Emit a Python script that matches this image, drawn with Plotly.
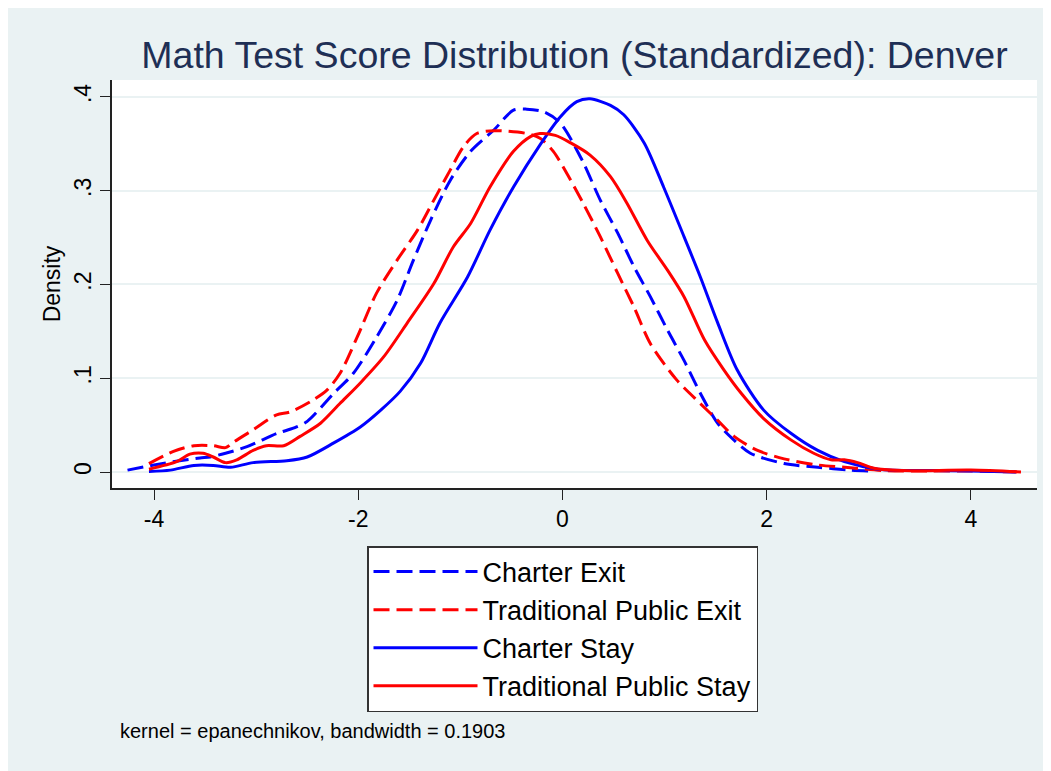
import plotly.graph_objects as go

# ---- data ----
ce_x = [-4.26, -4.0, -3.75, -3.55, -3.45, -3.3, -3.09, -2.8, -2.63, -2.5, -2.24, -2.05, -1.82, -1.62,
        -1.46, -1.29, -1.10, -0.90, -0.67, -0.48, -0.35, -0.18, -0.02, 0.19, 0.37, 0.54, 0.70, 0.86,
        1.03, 1.19, 1.35, 1.52, 1.68, 1.84, 2.17, 2.50, 2.82, 3.0]
ce_y = [0.002, 0.0075, 0.012, 0.015, 0.016, 0.020, 0.027, 0.041, 0.047, 0.054, 0.084, 0.105, 0.144,
        0.183, 0.226, 0.269, 0.311, 0.342, 0.365, 0.386, 0.387, 0.384, 0.372, 0.333, 0.290, 0.255,
        0.219, 0.187, 0.151, 0.119, 0.084, 0.052, 0.034, 0.020, 0.009, 0.005, 0.002, 0.001]

te_x = [-4.05, -3.81, -3.61, -3.42, -3.30, -3.22, -3.03, -2.80, -2.67, -2.47, -2.31, -2.18, -2.01,
        -1.82, -1.62, -1.42, -1.26, -1.10, -0.97, -0.84, -0.67, -0.35, -0.22, -0.09, 0.05, 0.21, 0.37,
        0.54, 0.70, 0.86, 1.12, 1.35, 1.52, 1.68, 1.91, 2.17, 2.50, 2.82, 3.15, 3.6, 4.0, 4.45]
te_y = [0.009, 0.022, 0.028, 0.028, 0.026, 0.032, 0.045, 0.061, 0.064, 0.075, 0.087, 0.105, 0.144,
        0.191, 0.226, 0.258, 0.290, 0.322, 0.347, 0.361, 0.364, 0.361, 0.356, 0.342, 0.317, 0.285,
        0.251, 0.212, 0.176, 0.137, 0.098, 0.073, 0.055, 0.038, 0.023, 0.014, 0.0075, 0.0046, 0.0015,
        0.001, 0.001, 0.0]

cs_x = [-4.05, -3.84, -3.61, -3.42, -3.25, -3.03, -2.70, -2.50, -2.24, -1.98, -1.78, -1.59, -1.39,
        -1.20, -0.93, -0.71, -0.48, -0.22, -0.02, 0.14, 0.27, 0.47, 0.60, 0.80, 0.99, 1.19, 1.35, 1.52,
        1.71, 1.97, 2.24, 2.50, 2.76, 3.09, 3.61, 4.0, 4.44]
cs_y = [0.0005, 0.002, 0.007, 0.007, 0.005, 0.010, 0.012, 0.016, 0.031, 0.048, 0.066, 0.086, 0.116,
        0.159, 0.208, 0.258, 0.304, 0.349, 0.379, 0.395, 0.398, 0.391, 0.381, 0.351, 0.304, 0.251,
        0.208, 0.159, 0.109, 0.066, 0.041, 0.023, 0.011, 0.003, 0.0015, 0.001, 0.0]

ts_x = [-4.05, -3.78, -3.65, -3.52, -3.42, -3.30, -3.19, -3.03, -2.90, -2.73, -2.57, -2.37, -2.18,
        -1.98, -1.75, -1.52, -1.26, -1.07, -0.90, -0.71, -0.48, -0.31, -0.22, -0.07, 0.08, 0.27, 0.47,
        0.63, 0.83, 1.03, 1.19, 1.39, 1.58, 1.75, 1.97, 2.24, 2.46, 2.63, 2.76, 2.89, 3.05, 3.32, 4.0,
        4.49]
ts_y = [0.003, 0.011, 0.019, 0.020, 0.016, 0.010, 0.013, 0.023, 0.028, 0.028, 0.038, 0.052, 0.073,
        0.095, 0.123, 0.159, 0.201, 0.240, 0.265, 0.304, 0.342, 0.358, 0.361, 0.359, 0.351, 0.338,
        0.315, 0.287, 0.247, 0.215, 0.187, 0.141, 0.109, 0.084, 0.057, 0.034, 0.020, 0.013, 0.013,
        0.010, 0.004, 0.0015, 0.002, 0.0]

series_names = ["Charter Exit", "Traditional Public Exit", "Charter Stay", "Traditional Public Stay"]
x_ticks = [-4, -2, 0, 2, 4]
x_ticktext = ["-4", "-2", "0", "2", "4"]
y_ticks = [0, 0.1, 0.2, 0.3, 0.4]
y_ticktext = ["0", ".1", ".2", ".3", ".4"]
title_text = "Math Test Score Distribution (Standardized): Denver"
note_text = "kernel = epanechnikov, bandwidth = 0.1903"

FONT = "Arial, Liberation Sans, Helvetica, sans-serif"
BG = "#EAF2F3"
DASH = "16px,7px"

# The page body adds an 8px white margin at top/left; the figure is sized to fill the rest.
W, H = 1043, 763
PL, PT, PR, PB = 104, 72, 1029, 480   # plot area edges in figure pixels
PW, PH = PR - PL, PB - PT


def px_x(x):
    return (x - PL) / PW


def px_y(y):
    return (PB - y) / PH


fig = go.Figure()
specs = [(ce_x, ce_y, "#0000FF", DASH), (te_x, te_y, "#FF0000", DASH),
         (cs_x, cs_y, "#0000FF", "solid"), (ts_x, ts_y, "#FF0000", "solid")]
for (xs, ys, col, dash), name in zip(specs, series_names):
    fig.add_trace(go.Scatter(x=xs, y=ys, mode="lines", name=name,
                             line=dict(color=col, width=3, dash=dash, shape="spline", smoothing=0.8)))

fig.update_layout(
    width=W, height=H,
    margin=dict(l=PL, r=W - PR, t=PT, b=H - PB, autoexpand=False),
    paper_bgcolor=BG, plot_bgcolor="white",
    font=dict(family=FONT, color="black"),
    title=dict(text=title_text, x=0.5, xref="paper", xanchor="center",
               y=1 - 47 / H, yref="container", yanchor="middle",
               font=dict(size=37.5, color="#1E2F55", family=FONT)),
    showlegend=True,
    legend=dict(x=px_x(359), y=px_y(538), xanchor="left", yanchor="top",
                bgcolor="white", bordercolor="#333333", borderwidth=1.5,
                font=dict(size=27, family=FONT, color="black"),
                itemwidth=104, tracegroupgap=0),
    annotations=[dict(text=note_text, xref="paper", yref="paper",
                      x=px_x(110), y=px_y(723), xanchor="left", yanchor="middle",
                      showarrow=False, font=dict(size=20, family=FONT, color="black"))],
)
fig.update_xaxes(range=[-4.412, 4.647], tickvals=x_ticks, ticktext=x_ticktext, automargin=False,
                 showgrid=False, zeroline=False, showline=True, linecolor="#222222", linewidth=1.5,
                 ticks="outside", ticklen=10, tickwidth=1.2, tickcolor="#222222",
                 tickfont=dict(size=23, family=FONT, color="black"))
fig.update_yaxes(range=[-0.01707, 0.4181], tickvals=y_ticks, ticktext=y_ticktext, tickangle=-90,
                 automargin=False,
                 showgrid=True, gridcolor=BG, gridwidth=2, zeroline=False,
                 showline=True, linecolor="#222222", linewidth=1.5,
                 ticks="outside", ticklen=10, tickwidth=1.2, tickcolor="#222222",
                 tickfont=dict(size=23, family=FONT, color="black"),
                 title=dict(text="Density", font=dict(size=23, family=FONT, color="black"), standoff=3))

fig.write_html("out.html")
